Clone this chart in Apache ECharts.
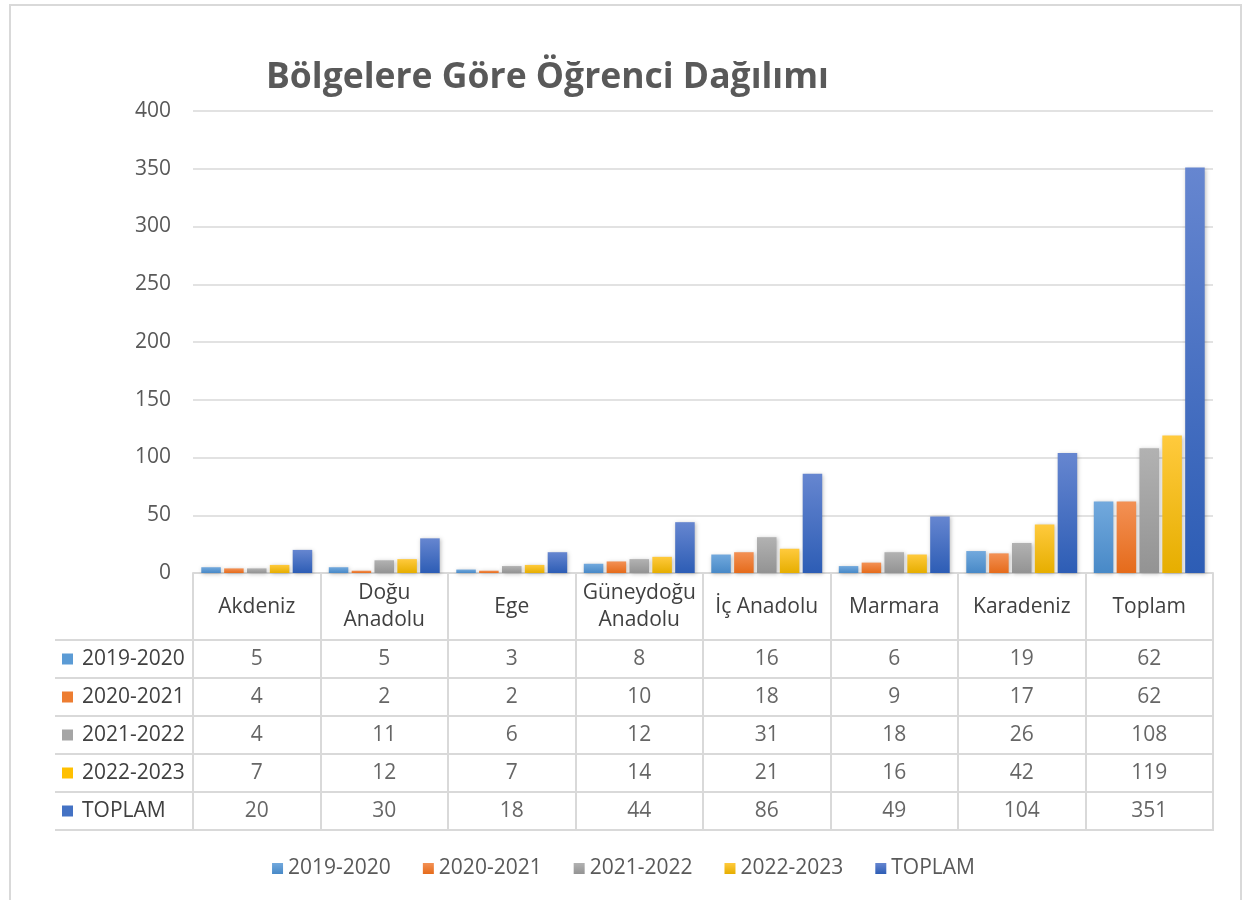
<!DOCTYPE html>
<html>
<head>
<meta charset="utf-8">
<script src="https://cdn.jsdelivr.net/npm/echarts@6/dist/echarts.min.js"></script>
<style>
  html, body { margin: 0; padding: 0; background: #fff; }
  #chart { width: 1247px; height: 900px; }
</style>
</head>
<body>
<div id="chart"></div>
<script>
const categories = ['Akdeniz', 'Doğu\nAnadolu', 'Ege', 'Güneydoğu\nAnadolu', 'İç Anadolu', 'Marmara', 'Karadeniz', 'Toplam']
const seriesNames = ['2019-2020', '2020-2021', '2021-2022', '2022-2023', 'TOPLAM']
const v2019 = [5, 5, 3, 8, 16, 6, 19, 62]
const v2020 = [4, 2, 2, 10, 18, 9, 17, 62]
const v2021 = [4, 11, 6, 12, 31, 18, 26, 108]
const v2022 = [7, 12, 7, 14, 21, 16, 42, 119]
const vTotal = [20, 30, 18, 44, 86, 49, 104, 351]
const values = [v2019, v2020, v2021, v2022, vTotal]

// light top / dark bottom, like the office gradient fill
const shades = [
  ['#72a9dd', '#4889c7'],
  ['#f39155', '#e56b1b'],
  ['#b2b2b2', '#939393'],
  ['#ffca3d', '#e6ae00'],
  ['#6686d0', '#2d5db5']
]
const keyColors = ['#5b9bd5', '#ed7d31', '#a5a5a5', '#ffc000', '#4472c4']

const font = '"Open Sans", "Liberation Sans", sans-serif'
const lineCol = '#d9d9d9'
const textCol = '#404040'
const fs = 21

const grad = (c) => new echarts.graphic.LinearGradient(0, 0, 0, 1, [
  { offset: 0, color: c[0] },
  { offset: 1, color: c[1] }
])

const rich = { t: { fontSize: fs, color: textCol, fontFamily: font, padding: [0, 0, 0, 9] } }
keyColors.forEach((c, i) => {
  rich['k' + i] = { backgroundColor: c, width: 11, height: 11 }
})

const barSeries = seriesNames.map((name, i) => ({
  name: name,
  type: 'bar',
  xAxisIndex: 0,
  yAxisIndex: 0,
  data: values[i],
  barGap: '17%',
  barCategoryGap: '13%',
  itemStyle: {
    color: grad(shades[i]),
    shadowBlur: 4,
    shadowColor: 'rgba(0,0,0,0.25)',
    shadowOffsetX: 1,
    shadowOffsetY: 1
  }
}))

const tableSeries = seriesNames.map((name, i) => ({
  name: 'tbl' + i,
  type: 'scatter',
  xAxisIndex: 1,
  yAxisIndex: 1,
  symbolSize: 0,
  silent: true,
  data: categories.map((c, j) => [c, name, values[i][j]]),
  label: {
    show: true,
    position: 'inside',
    formatter: (p) => p.value[2],
    fontSize: fs,
    color: textCol,
    fontFamily: font
  }
}))

const myEcharts = echarts.init(document.getElementById('chart'))
myEcharts.setOption({
  animation: false,
  textStyle: { fontFamily: font },
  title: {
    text: 'Bölgelere Göre Öğrenci Dağılımı',
    left: 261,
    top: 55,
    textStyle: { fontSize: 35.5, fontWeight: 'bold', color: '#595959', fontFamily: font }
  },
  graphic: [{
    type: 'rect',
    silent: true,
    shape: { x: 10, y: 5, width: 1231, height: 900 },
    style: { fill: 'none', stroke: lineCol, lineWidth: 2 }
  }],
  legend: {
    data: seriesNames,
    top: 853,
    left: 'center',
    icon: 'rect',
    itemWidth: 11,
    itemHeight: 11,
    itemGap: 32,
    textStyle: { fontSize: fs, color: '#595959', fontFamily: font }
  },
  grid: [
    { left: 193, right: 34, top: 111, bottom: 327 },
    { left: 193, right: 34, top: 640, height: 190, show: true, borderColor: lineCol, borderWidth: 2 }
  ],
  xAxis: [
    {
      type: 'category',
      gridIndex: 0,
      data: categories,
      axisLine: { lineStyle: { color: lineCol, width: 2 } },
      axisTick: { show: true, length: 67, lineStyle: { color: lineCol, width: 2 } },
      axisLabel: {
        fontSize: fs,
        color: textCol,
        margin: 34,
        verticalAlign: 'middle',
        lineHeight: 27,
        interval: 0
      }
    },
    {
      type: 'category',
      gridIndex: 1,
      data: categories,
      axisLine: { show: false },
      axisTick: { show: false },
      axisLabel: { show: false },
      splitLine: { show: true, lineStyle: { color: lineCol, width: 2 } }
    }
  ],
  yAxis: [
    {
      type: 'value',
      gridIndex: 0,
      min: 0,
      max: 400,
      interval: 50,
      axisLabel: { fontSize: fs, color: '#595959', margin: 22 },
      splitLine: { lineStyle: { color: lineCol, width: 1.5 } }
    },
    {
      type: 'category',
      gridIndex: 1,
      data: seriesNames,
      inverse: true,
      axisLine: { show: true, lineStyle: { color: lineCol, width: 2 } },
      axisTick: { show: true, length: 138, lineStyle: { color: lineCol, width: 2 } },
      splitLine: { show: true, lineStyle: { color: lineCol, width: 2 } },
      axisLabel: {
        align: 'left',
        margin: 131,
        formatter: (v, i) => '{k' + i + '|}{t|' + v + '}',
        rich: rich
      }
    },
    {
      type: 'category',
      gridIndex: 1,
      data: seriesNames,
      inverse: true,
      offset: 138,
      axisLine: { show: true, lineStyle: { color: lineCol, width: 2 } },
      axisTick: { show: false },
      axisLabel: { show: false },
      splitLine: { show: false }
    }
  ],
  series: barSeries.concat(tableSeries)
})
</script>
</body>
</html>
